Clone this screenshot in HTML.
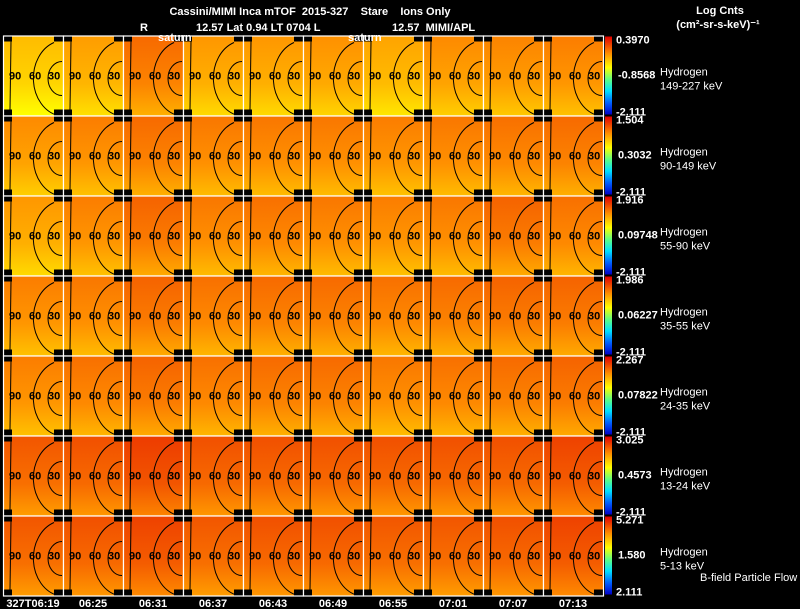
<!DOCTYPE html>
<html><head><meta charset="utf-8"><style>
html,body{margin:0;padding:0;background:#000;}
body{width:800px;height:609px;overflow:hidden;position:relative;font-family:"Liberation Sans",Arial,sans-serif;}
svg{position:absolute;left:0;top:0;}
text{font-family:"Liberation Sans",Arial,sans-serif;fill:#fff;font-size:11px;white-space:pre;}
.b{font-weight:bold;}
</style></head><body>
<svg id="chart" width="800" height="609" viewBox="0 0 800 609">
<defs>
<linearGradient id="cbar" x1="0" y1="1" x2="0" y2="0">
<stop offset="0" stop-color="#0000c8"/><stop offset="0.15" stop-color="#0060ff"/>
<stop offset="0.3" stop-color="#00e0ff"/><stop offset="0.45" stop-color="#60ff80"/>
<stop offset="0.6" stop-color="#ffff00"/><stop offset="0.78" stop-color="#ff9000"/>
<stop offset="1" stop-color="#e00000"/></linearGradient>
</defs>
<g id="panels"></g>
<g id="labels"></g>
<text x="310" y="15" text-anchor="middle" font-size="13" class="b">Cassini/MIMI Inca mTOF  2015-327    Stare    Ions Only</text>
<text x="140" y="31" font-size="13" class="b">R</text>
<text x="196" y="31" font-size="13" class="b">12.57 Lat 0.94 LT 0704 L</text>
<text x="392" y="31" font-size="13" class="b">12.57  MIMI/APL</text>
<text x="158" y="41" font-size="12" class="b">saturn</text>
<text x="348" y="41" font-size="12" class="b">saturn</text>
<text x="720" y="14" text-anchor="middle" font-size="11" class="b">Log Cnts</text>
<text x="718" y="28" text-anchor="middle" font-size="11" class="b">(cm²-sr-s-keV)⁻¹</text>
<text x="700" y="581" font-size="9">B-field Particle Flow</text>
</svg>
<script>
const times = ["327T06:19","06:25","06:31","06:37","06:43","06:49","06:55","07:01","07:07","07:13"];
const species = ["Hydrogen","Hydrogen","Hydrogen","Hydrogen","Hydrogen","Hydrogen","Hydrogen"];
const energies = ["149-227 keV","90-149 keV","55-90 keV","35-55 keV","24-35 keV","13-24 keV","5-13 keV"];
const cbTop = ["0.3970","1.504","1.916","1.986","2.267","3.025","5.271"];
const cbMid = ["-0.8568","0.3032","0.09748","0.06227","0.07822","0.4573","1.580"];
const cbBot = ["-2.111","-2.111","-2.111","-2.111","-2.111","-2.111","2.111"];
// colormap positions (0..1) of each panel's mean, rows top->bottom
const row0 = [0.67,0.72,0.80,0.73,0.73,0.74,0.71,0.75,0.76,0.77];
const row1 = [0.75,0.77,0.80,0.78,0.78,0.78,0.77,0.78,0.79,0.80];
const row2 = [0.73,0.77,0.81,0.78,0.79,0.78,0.77,0.78,0.81,0.79];
const row3 = [0.77,0.78,0.81,0.79,0.80,0.80,0.79,0.80,0.81,0.81];
const row4 = [0.77,0.79,0.81,0.79,0.80,0.80,0.78,0.79,0.80,0.81];
const row5 = [0.83,0.84,0.87,0.84,0.84,0.84,0.84,0.84,0.84,0.86];
const row6 = [0.83,0.84,0.86,0.83,0.84,0.84,0.83,0.83,0.84,0.86];
const values = [row0,row1,row2,row3,row4,row5,row6];

const NS="http://www.w3.org/2000/svg";
const X0=3,PW=60,Y0=35.5,PH=80;
const xPos=i=>X0+i*PW, yPos=r=>Y0+r*PH;
const stops=[[0,[0,0,200]],[0.15,[0,96,255]],[0.3,[0,224,255]],[0.45,[96,255,128]],[0.6,[255,255,0]],[0.78,[255,144,0]],[1,[224,0,0]]];
function cmap(v){v=Math.max(0,Math.min(1,v));for(let i=1;i<stops.length;i++){if(v<=stops[i][0]){const a=stops[i-1],b=stops[i],t=(v-a[0])/(b[0]-a[0]);return `rgb(${a[1].map((c,k)=>Math.round(c+(b[1][k]-c)*t)).join(',')})`;}}return 'rgb(224,0,0)';}
function mk(tag,attrs,parent){const e=document.createElementNS(NS,tag);for(const k in attrs)e.setAttribute(k,attrs[k]);parent.appendChild(e);return e;}
const gP=document.getElementById('panels'),gL=document.getElementById('labels');
values.forEach((row,r)=>{
  row.forEach((v,c)=>{
    const x=xPos(c),y=yPos(r);
    const g=mk('g',{},gP);
    
    
    const gid='pg'+r+'_'+c;
    const lg=mk('linearGradient',{id:gid,x1:0,y1:0,x2:0,y2:1},g);
    mk('stop',{offset:0,'stop-color':cmap(v+0.04)},lg);
    mk('stop',{offset:0.6,'stop-color':cmap(v)},lg);
    mk('stop',{offset:1,'stop-color':cmap(v-0.07)},lg);
    const cell=mk('rect',{x:x,y:y,width:PW,height:PH,fill:`url(#${gid})`},g);
    
    
    const cx=x+PW-1,cy=y+PH/2+2;
    mk('path',{d:`M${cx-8} ${cy-35} A31 38 0 0 0 ${cx-4} ${cy+38}`,fill:'none',stroke:'#000','stroke-width':1},g);
    mk('path',{d:`M${cx} ${cy-16} A14 17 0 0 0 ${cx} ${cy+18}`,fill:'none',stroke:'#000','stroke-width':1},g);
    mk('line',{x1:x+8,y1:y+6,x2:x+7,y2:y+PH-6,stroke:'#000','stroke-width':1},g);
    [['90',x+6],['60',x+26],['30',x+45]].forEach(([t,tx])=>{const e=mk('text',{x:tx,y:cy+2,'font-size':10,'font-weight':'bold',style:'fill:#000'},g);e.textContent=t;});
    [[x,y],[x+PW-9,y],[x,y+PH-6],[x+PW-9,y+PH-6]].forEach(([bx,by])=>mk('rect',{x:bx,y:by,width:9,height:6,fill:'#000'},g));
    mk('rect',{x:x+0.5,y:y+0.5,width:PW,height:PH,fill:'none',stroke:'#fff','stroke-width':1.2},g);
  });
  const y=yPos(r);
  const cb=mk('rect',{x:605,y:y+1,width:7,height:PH-2,fill:'url(#cbar)'},gL);
  
  
  const t1=mk('text',{x:616,y:y+8,'font-size':11,'font-weight':'bold'},gL);t1.textContent=cbTop[r];
  
  const t2=mk('text',{x:618,y:y+43,'font-size':11,'font-weight':'bold'},gL);t2.textContent=cbMid[r];
  
  const t3=mk('text',{x:616,y:y+PH,'font-size':11,'font-weight':'bold'},gL);t3.textContent=cbBot[r];
  
  const s=mk('text',{x:660,y:y+40,'font-size':12},gL);s.textContent=species[r];
  
  const e=mk('text',{x:660,y:y+54,'font-size':12},gL);e.textContent=energies[r];
  
});
times.forEach((t,i)=>{
  const e=mk('text',{x:xPos(i)+PW/2,y:607,'text-anchor':'middle','font-size':11,'font-weight':'bold'},gL);
  e.textContent=t;
  
  
});
</script>
</body></html>
